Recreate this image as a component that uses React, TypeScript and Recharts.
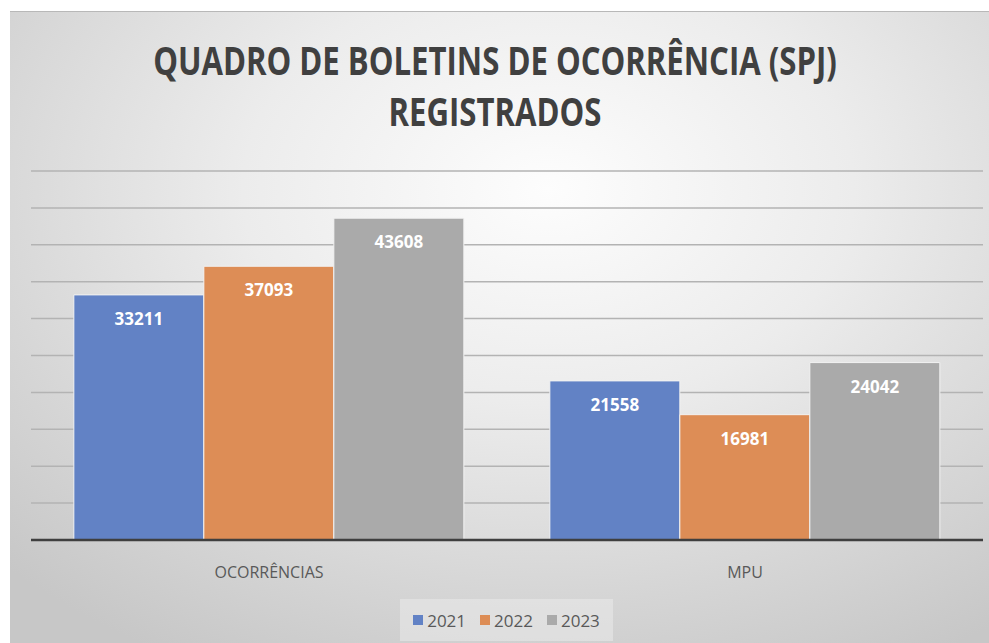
import { useLayoutEffect, useRef, useState } from 'react';
import { BarChart, Bar, XAxis, YAxis, CartesianGrid, LabelList } from 'recharts';

const categories = ['OCORRÊNCIAS', 'MPU'];
const years = ['2021', '2022', '2023'];
const values2021 = [33211, 21558];
const values2022 = [37093, 16981];
const values2023 = [43608, 24042];
const yTicks = [0, 5000, 10000, 15000, 20000, 25000, 30000, 35000, 40000, 45000, 50000];
const colors = ['#6282c5', '#dd8d56', '#aaaaaa'];
const titleLines = ['QUADRO DE BOLETINS DE OCORRÊNCIA (SPJ)', 'REGISTRADOS'];

const data = categories.map((c, i) => ({
  name: c,
  '2021': values2021[i],
  '2022': values2022[i],
  '2023': values2023[i],
}));

const font = '"Open Sans", sans-serif';

// squeezes a bold line horizontally to a target width (the original uses a narrow font)
function TitleLine({ text, y, width }: { text: string; y: number; width: number }) {
  const ref = useRef<SVGTextElement>(null);
  const [sx, setSx] = useState(0.78);
  useLayoutEffect(() => {
    if (ref.current) {
      const w = ref.current.getComputedTextLength();
      if (w > 0) setSx(width / w);
    }
  }, [width]);
  return (
    <g transform={`translate(485,${y}) scale(${sx},1)`}>
      <text ref={ref} x={0} y={0} textAnchor="middle" fontSize={39} fontWeight={700} fill="#404040" fontFamily={font}>
        {text}
      </text>
    </g>
  );
}

export default function App() {
  return (
    <div
      style={{
        position: 'absolute',
        left: 10,
        top: 11,
        width: 979,
        height: 632,
        borderTop: '1px solid #b8b8b8',
        background:
          'radial-gradient(ellipse 78% 85% at 55% 28%, #fdfdfd 0%, #ececec 40%, #d6d6d6 75%, #c7c7c7 100%)',
        fontFamily: font,
        overflow: 'hidden',
      }}
    >
      <svg width={979} height={140} style={{ position: 'absolute', left: 0, top: 0 }}>
        <TitleLine text={titleLines[0]} y={63} width={684} />
        <TitleLine text={titleLines[1]} y={114} width={213} />
      </svg>

      <div style={{ position: 'absolute', left: 0, top: 0 }}>
        <BarChart
          width={979}
          height={632}
          data={data}
          margin={{ top: 159, right: 6, bottom: 74, left: 21 }}
          barCategoryGap="9%"
          barGap={0}
        >
          <CartesianGrid vertical={false} stroke="#b3b3b3" strokeWidth={1.5} />
          <YAxis hide domain={[0, 50000]} ticks={yTicks} />
          <XAxis
            dataKey="name"
            height={30}
            tickLine={false}
            axisLine={{ stroke: '#3f3f3f', strokeWidth: 2.5 }}
            tickMargin={21}
            tick={{ fill: '#595959', fontSize: 16, fontFamily: font }}
          />
          {years.map((y, i) => (
            <Bar
              key={y}
              dataKey={y}
              fill={colors[i]}
              stroke="#f2f2f2"
              strokeWidth={1}
              isAnimationActive={false}
            >
              <LabelList
                dataKey={y}
                position="insideTop"
                offset={18}
                fill="#ffffff"
                fontSize={17}
                fontWeight={700}
                fontFamily={font}
              />
            </Bar>
          ))}
        </BarChart>
      </div>

      <div
        style={{
          position: 'absolute',
          left: 390,
          top: 587,
          width: 213,
          height: 42,
          background: 'rgba(240,240,240,0.45)',
          display: 'flex',
          alignItems: 'center',
          justifyContent: 'center',
          gap: 14,
        }}
      >
        {years.map((y, i) => (
          <div key={y} style={{ display: 'flex', alignItems: 'center', gap: 4 }}>
            <span style={{ width: 10, height: 10, background: colors[i], display: 'inline-block' }} />
            <span style={{ fontSize: 17, color: '#595959', fontFamily: font }}>{y}</span>
          </div>
        ))}
      </div>
    </div>
  );
}
